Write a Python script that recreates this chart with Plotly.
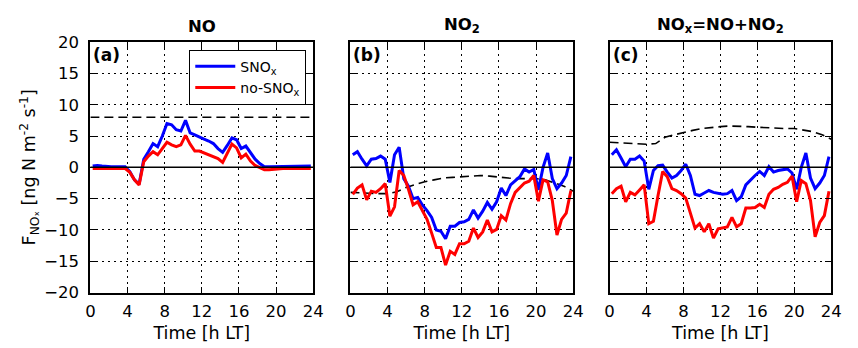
import plotly.graph_objects as go

# half-hourly times [h LT]
hours = [0.25, 0.75, 1.25, 1.75, 2.25, 2.75, 3.25, 3.75, 4.25, 4.75, 5.25, 5.75,
         6.25, 6.75, 7.25, 7.75, 8.25, 8.75, 9.25, 9.75, 10.25, 10.75, 11.25, 11.75,
         12.25, 12.75, 13.25, 13.75, 14.25, 14.75, 15.25, 15.75, 16.25, 16.75, 17.25, 17.75,
         18.25, 18.75, 19.25, 19.75, 20.25, 20.75, 21.25, 21.75, 22.25, 22.75, 23.25, 23.75]
# hourly times for dashed reference
hours_ref = [0, 1, 2, 3, 4, 5, 6, 7, 8, 9, 10, 11, 12, 13, 14, 15, 16, 17, 18, 19, 20, 21, 22, 23, 24]

# (a) NO
no_snox = [0.2, 0.3, 0.2, 0.1, 0.1, 0.1, 0.1, 0.1, -0.7, -2.0, -2.7, 1.3,
           2.5, 3.8, 3.3, 5.0, 7.0, 6.8, 6.0, 5.8, 7.5, 5.5, 5.2, 4.8,
           4.5, 4.2, 3.8, 3.0, 2.4, 3.5, 4.7, 4.4, 3.0, 3.4, 2.4, 1.3,
           0.6, 0.1, 0.1, 0.1, 0.1, 0.2, 0.2, 0.2, 0.1, 0.1, 0.1, 0.2]
no_nosnox = [-0.2, -0.2, -0.2, -0.2, -0.2, -0.2, -0.2, -0.2, -0.8, -2.0, -2.8, 0.9,
             1.8, 2.5, 2.0, 3.0, 4.0, 3.6, 3.3, 3.6, 5.1, 3.7, 2.6, 2.6,
             2.3, 2.0, 1.6, 1.4, 0.8, 2.3, 3.7, 3.1, 1.5, 2.1, 1.0, 0.3,
             -0.1, -0.4, -0.4, -0.3, -0.2, -0.2, -0.2, -0.2, -0.2, -0.2, -0.2, -0.2]
no_ref = [8.0, 8.0, 8.0, 8.0, 8.0, 8.0, 8.0, 8.0, 8.0, 8.0, 8.0, 8.0, 8.0,
          8.0, 8.0, 8.0, 8.0, 8.0, 8.0, 8.0, 8.0, 8.0, 8.0, 8.0, 8.0]

# (b) NO2
no2_snox = [2.0, 2.5, 1.3, 0.25, 1.3, 1.4, 1.8, 1.3, -2.4, 2.0, 3.2, -1.8,
            -3.0, -5.0, -4.8, -6.0, -6.9, -8.0, -10.0, -10.2, -11.4, -9.4, -9.4, -8.8,
            -8.7, -8.3, -6.8, -8.1, -7.0, -5.6, -6.7, -5.5, -3.3, -4.5, -2.8, -2.2,
            -1.5, -0.25, -0.75, -0.35, -3.6, 0.0, 2.3, -1.8, -3.4, -2.5, -1.3, 1.7]
no2_nosnox = [-4.3, -3.3, -2.8, -5.2, -3.8, -4.0, -3.4, -2.6, -7.8, -6.3, -0.5, -1.3,
              -3.5, -6.0, -5.5, -6.8, -8.3, -10.5, -12.8, -12.8, -15.6, -13.4, -13.9, -12.2,
              -12.2, -11.8, -9.7, -11.2, -10.3, -8.4, -10.3, -9.9, -7.7, -8.4, -5.8, -4.0,
              -3.2, -2.5, -2.2, -1.3, -5.4, -2.0, -2.3, -5.3, -10.8, -8.3, -7.3, -3.7]
no2_ref = [-4.0, -4.1, -4.1, -4.2, -4.2, -3.9, -3.2, -2.7, -2.3, -2.0, -1.7, -1.6, -1.5,
           -1.4, -1.3, -1.4, -1.6, -1.7, -1.8, -1.8, -1.8, -2.0, -2.5, -3.0, -3.8]

# (c) NOx = NO + NO2
nox_snox = [2.0, 2.8, 1.5, 0.1, 1.3, 1.3, 1.8, 1.0, -3.5, -0.5, 0.25, 0.35,
            -0.75, -1.7, -1.3, -0.5, 0.5, -1.3, -4.3, -4.5, -4.1, -3.7, -4.0, -4.1,
            -4.3, -4.2, -3.7, -5.3, -4.7, -2.8, -2.0, -1.3, -0.65, -1.3, 0.1, -0.75,
            -0.5, -0.4, -0.25, -0.9, -3.5, 0.0, 2.3, -1.7, -3.4, -2.5, -1.3, 1.7]
nox_nosnox = [-4.2, -3.4, -3.0, -5.5, -4.0, -4.4, -3.6, -2.8, -9.0, -8.6, -4.5, -0.65,
              -1.5, -3.4, -3.7, -4.2, -4.9, -7.3, -9.7, -9.0, -10.3, -9.0, -11.3, -9.8,
              -9.6, -9.5, -8.0, -9.5, -9.0, -6.5, -6.5, -6.4, -5.9, -6.4, -4.3, -3.5,
              -3.2, -2.7, -2.4, -1.4, -5.5, -2.1, -2.6, -5.3, -11.1, -8.8, -7.7, -3.8]
nox_ref = [4.0, 3.9, 3.9, 3.8, 3.7, 3.8, 4.8, 5.2, 5.6, 5.9, 6.2, 6.4, 6.5,
           6.6, 6.6, 6.5, 6.4, 6.3, 6.3, 6.2, 6.2, 6.0, 5.7, 5.2, 4.5]

titles = ["<b>NO</b>", "<b>NO<sub>2</sub></b>", "<b>NO<sub>x</sub>=NO+NO<sub>2</sub></b>"]
panel_labels = ["<b>(a)</b>", "<b>(b)</b>", "<b>(c)</b>"]
x_ticks = [0, 4, 8, 12, 16, 20, 24]
y_ticks = [-20, -15, -10, -5, 0, 5, 10, 15, 20]

panels = [(no_snox, no_nosnox, no_ref), (no2_snox, no2_nosnox, no2_ref), (nox_snox, nox_nosnox, nox_ref)]
W, H = 858, 348
xdoms = [[87 / W, 314 / W], [352 / W, 579 / W], [616 / W, 842 / W]]
ydom = [1 - 300 / H, 1 - 35 / H]

font = "DejaVu Sans"
fig = go.Figure()
for i, (s, ns, ref) in enumerate(panels):
    xa = "x" if i == 0 else f"x{i+1}"
    ya = "y" if i == 0 else f"y{i+1}"
    fig.add_trace(go.Scatter(x=hours_ref, y=ref, mode="lines", xaxis=xa, yaxis=ya,
                             line=dict(color="black", width=1.6, dash="9px,5px"), showlegend=False))
    fig.add_trace(go.Scatter(x=hours, y=s, mode="lines", xaxis=xa, yaxis=ya, name="SNO<sub>x</sub>",
                             line=dict(color="#0000ff", width=3), showlegend=(i == 0)))
    fig.add_trace(go.Scatter(x=hours, y=ns, mode="lines", xaxis=xa, yaxis=ya, name="no-SNO<sub>x</sub>",
                             line=dict(color="#ff0000", width=3), showlegend=(i == 0)))
    fig.add_shape(type="line", xref=f"{xa} domain", yref=ya, x0=0, x1=1, y0=0, y1=0,
                  line=dict(color="black", width=1.5))
    axx = dict(domain=xdoms[i], range=[0, 24], tickvals=x_ticks, ticks="inside", ticklen=6,
               tickcolor="black", showline=True, linecolor="black", linewidth=2, mirror="ticks",
               showgrid=True, gridcolor="black", griddash="2px,4px", gridwidth=1, zeroline=False,
               anchor=ya, tickfont=dict(size=16.5, color="black"), ticklabelstandoff=3,
               title=dict(text="Time [h LT]", font=dict(size=17.5, color="black"), standoff=6))
    axy = dict(domain=ydom, range=[-20, 20], tickvals=y_ticks, ticks="inside", ticklen=6,
               tickcolor="black", showline=True, linecolor="black", linewidth=2, mirror="ticks",
               showgrid=True, gridcolor="black", griddash="2px,4px", gridwidth=1, zeroline=False,
               anchor=xa, showticklabels=(i == 0), tickfont=dict(size=16.5, color="black"),
               ticklabelstandoff=6)
    if i == 0:
        axy["title"] = dict(text="F<sub>NOₓ</sub> [ng N m<sup>-2</sup> s<sup>-1</sup>]",
                            font=dict(size=17.5, color="black"), standoff=4)
    fig.update_layout(**{("xaxis" if i == 0 else f"xaxis{i+1}"): axx,
                         ("yaxis" if i == 0 else f"yaxis{i+1}"): axy})
    fig.add_annotation(text=titles[i], xref="paper", yref="paper",
                       x=(xdoms[i][0] + xdoms[i][1]) / 2, y=ydom[1], yanchor="bottom",
                       xanchor="center", showarrow=False, font=dict(size=16.5, color="black"), yshift=4)
    fig.add_annotation(text=panel_labels[i], xref=f"{xa} domain", yref=f"{ya} domain",
                       x=0, y=1, xanchor="left", yanchor="top", xshift=1, yshift=-1,
                       showarrow=False, font=dict(size=17, color="black"))

fig.update_layout(
    width=W, height=H, margin=dict(l=0, r=0, t=0, b=0),
    paper_bgcolor="white", plot_bgcolor="white",
    font=dict(family=font, color="black"),
    legend=dict(x=307 / W, y=1 - 43 / H, xanchor="right", yanchor="top",
                bordercolor="black", borderwidth=1, bgcolor="white",
                font=dict(size=14, color="black"), tracegroupgap=0, itemwidth=40),
)
fig.write_html("out.html")
